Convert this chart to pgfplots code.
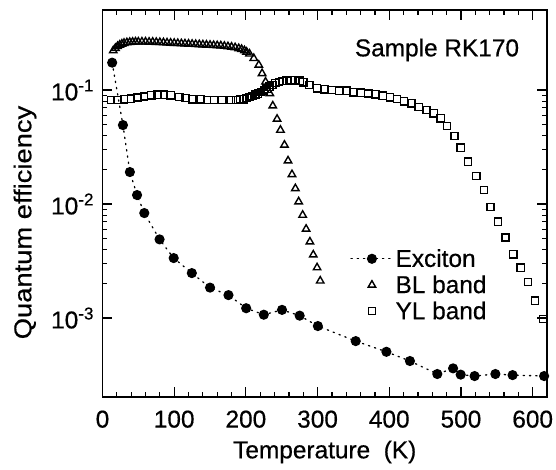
\documentclass[border=0pt]{standalone}
\usepackage{pgfplots}
\pgfplotsset{compat=1.18}
\usepackage{pgfplotstable}
\usepackage{fontspec}
\setmainfont{Liberation Sans}[FakeBold=0.5]
\usetikzlibrary{calc}

% exciton (filled circles, dotted line)
\pgfplotstableread{
T q
13.5 0.174
28.5 0.0493
38.2 0.0191
48.2 0.0120
58.3 0.00834
79.6 0.00490
99.3 0.00336
124.6 0.00248
150 0.00185
175.7 0.00159
200.4 0.00122
225 0.00107
250.4 0.00118
275 0.00105
300.4 0.000851
353.2 0.000628
396 0.000506
428.8 0.000420
467 0.000323
489 0.000362
499.6 0.000319
519 0.000310
548 0.000323
572 0.000316
616 0.000310
}\exciton

% BL band (open triangles)
\pgfplotstableread{
T q
15 0.222
18 0.233
21 0.242
24 0.249
27 0.254
30 0.258
34 0.261
38 0.263
42 0.264
46 0.265
50 0.265
55 0.265
60 0.265
65 0.264
70 0.264
75 0.263
80 0.262
85 0.261
90 0.260
95 0.259
100 0.258
105 0.257
110 0.256
115 0.255
120 0.254
125 0.253
130 0.252
135 0.251
140 0.250
145 0.249
150 0.248
155 0.247
160 0.246
165 0.245
170 0.243
175 0.241
180 0.239
185 0.236
190 0.232
194 0.228
198 0.222
201 0.216
205 0.208
211 0.190
218 0.166
222.6 0.140
227.4 0.118
233.3 0.0935
237.5 0.0728
243.5 0.0557
248.2 0.0446
253.8 0.0330
258.8 0.0240
264.3 0.0182
269 0.0137
273.6 0.0105
279.2 0.00801
284 0.00604
289.3 0.00467
294 0.00359
299.3 0.00277
303.7 0.00212
}\blband

% YL band (open squares)
\pgfplotstableread{
T q
12 0.082
21 0.082
30 0.083
40 0.084
49 0.086
58 0.088
68 0.090
77 0.091
86 0.091
95 0.090
107 0.087
116 0.085
125 0.083
137 0.083
146 0.082
156 0.082
167 0.082
179 0.082
186 0.082
192 0.083
197 0.083
201 0.085
205 0.087
209 0.089
213 0.091
217 0.093
221 0.096
225 0.099
229 0.103
233 0.107
237 0.111
241 0.115
246 0.118
251 0.120
257 0.121
263 0.122
269 0.122
275 0.121
280 0.117
288.5 0.111
299 0.1035
309.7 0.1015
320 0.100
330 0.0986
340.7 0.0986
350 0.0955
360.7 0.0947
370.8 0.0935
381 0.0917
390.7 0.0891
401 0.0863
411 0.0834
420.8 0.0796
431 0.0765
441 0.0710
451.8 0.0668
462 0.0625
471.8 0.0565
480.6 0.0483
491 0.0395
499.6 0.0312
509.7 0.0235
521.3 0.0177
532 0.0133
541.3 0.00946
551.4 0.00700
562 0.00510
573 0.00363
583.3 0.00277
593.5 0.00207
603.5 0.00142
614.6 0.00098
}\ylband

\begin{document}
\begin{tikzpicture}
\begin{axis}[
  name=ax,
  scale only axis,
  width=444.5bp, height=387bp,
  xmin=0, xmax=620,
  ymode=log, ymin=2.03e-4, ymax=0.504,
  xtick={0,100,...,600},
  minor x tick num=4,
  ytick={1e-3,1e-2,1e-1},
  yticklabels={10\textsuperscript{-3},10\textsuperscript{-2},10\textsuperscript{-1}},
  tick align=inside,
  major tick length=10bp, minor tick length=5bp,
  every tick/.style={black, line width=1.2bp},
  axis line style={line width=1.6bp},
  /pgf/number format/assume math mode=true,
  tick label style={font=\fontsize{24.5}{28}\selectfont},
  xticklabel shift=10bp,
  yticklabel shift=5bp,
  label style={font=\fontsize{24.5}{28}\selectfont},
  xlabel={Temperature\ \ (K)},
  xlabel style={at={(axis description cs:0.5,0)}, anchor=center, yshift=-55bp},
  ylabel={\scalebox{1.12}[1]{Quantum efficiency}},
  ylabel style={at={(axis description cs:0,0.5)}, anchor=center, yshift=77.5bp, xshift=-19bp},
  legend image code/.code={\draw[mark repeat=2,mark phase=2,#1] plot coordinates {(0bp,0bp) (21bp,0bp) (42bp,0bp)};},
  legend style={draw=none, fill=none, at={(axis description cs:0.557,0.3876)}, anchor=north west,
    font=\fontsize{24.5}{28}\selectfont, inner sep=0pt, row sep=3bp},
  legend cell align=left,
]
\addplot[black, line width=1.3bp, dash pattern=on 1.3bp off 5bp, line cap=round,
  mark=*, mark size=4.4bp, mark options={solid}] table {\exciton};
\addlegendentry{Exciton}
\addplot[black, only marks, mark=triangle, mark size=4.3bp, mark options={line width=1.4bp}] table {\blband};
\addlegendentry{BL band}
\addplot[black, only marks, mark=square, mark size=3.6bp, mark options={line width=1.4bp}] table {\ylband};
\addlegendentry{YL band}
\node[font=\fontsize{24.5}{28}\selectfont] at (axis description cs:0.7525,0.8966) {Sample RK170};
\end{axis}
\pgfresetboundingbox
\path[use as bounding box] ($(ax.south west)+(-102.5bp,-73bp)$) rectangle ($(ax.north east)+(9bp,10bp)$);
\end{tikzpicture}
\end{document}
